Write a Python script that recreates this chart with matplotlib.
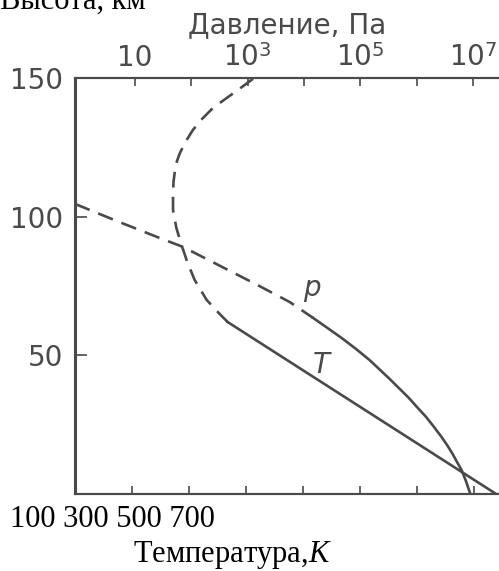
import matplotlib
matplotlib.use("Agg")
import matplotlib.pyplot as plt

plt.rcParams['mathtext.fontset'] = 'custom'
plt.rcParams['mathtext.rm'] = 'DejaVu Sans'
plt.rcParams['mathtext.it'] = 'Liberation Serif:italic'

# Temperature profile (K vs km): dashed above ~62 km, solid below
temp_dash_K = [311.4, 298.2, 285.1, 264, 241.2, 222.8, 206.1, 193.9, 183.3, 178.1, 174.6,
               171.9, 171.1, 171.1, 177, 186, 196, 209, 230, 253, 267]
temp_dash_km = [149.7, 147.7, 145.7, 142.6, 139.2, 135.4, 131.3, 127.3, 123.0, 120.1, 116.8,
                112.5, 107.8, 102.4, 95.9, 89.8, 83.7, 77.2, 70, 64.9, 62]
temp_solid_K = [267, 738]
temp_solid_km = [62, 0]

# Pressure profile (Pa vs km)
p_dash_Pa = [0.86, 4.8, 27.5, 71, 1480, 5600, 14500]
p_dash_km = [104.6, 98.4, 92.3, 89.1, 75.4, 69.2, 63.5]
p_solid_Pa = [14500, 2.6e4, 4.7e4, 8.4e4, 1.46e5, 3.2e5, 7.0e5, 1.01e6, 1.47e6, 2.03e6,
              2.76e6, 3.46e6, 4.25e6, 5.1e6, 6.25e6, 7.5e6, 8.85e6]
p_solid_km = [63.5, 59.9, 56.2, 52.3, 48.3, 41.8, 35.0, 31.4, 27.8, 24.2,
              20.6, 17.7, 14.8, 11.9, 8.7, 4.7, 0.4]

alt_ticks = [50, 100, 150]
temp_ticks = [100, 200, 300, 400, 500, 600, 700]
p_ticks = [1e1, 1e2, 1e3, 1e4, 1e5, 1e6, 1e7]
p_ticklabels = ['10', '', '$10^3$', '', '$10^5$', '', '$10^7$']

grey = '#4a4a4a'
lw = 1.9
dash = (0, (6, 3.5))

fig = plt.figure(figsize=(4.99, 5.71), dpi=100)
ax = fig.add_axes([75.5 / 499, 1 - 494 / 571, 1 - 75.5 / 499, (494 - 78) / 571])

ax.plot(temp_dash_K, temp_dash_km, color=grey, lw=lw, linestyle=dash)
ax.plot(temp_solid_K, temp_solid_km, color=grey, lw=lw)
ax.set_xlim(0, 743)
ax.set_ylim(0, 150)
ax.set_xticks(temp_ticks)
ax.set_xticklabels([])
ax.set_yticks(alt_ticks)
ax.tick_params(axis='x', direction='in', length=6, width=1.2, color=grey)
ax.tick_params(axis='y', direction='in', length=8, width=1.2, color=grey,
               labelsize=20, labelcolor=grey, pad=9)

ax2 = ax.twiny()
ax2.plot(p_dash_Pa, p_dash_km, color=grey, lw=lw, linestyle=dash)
ax2.plot(p_solid_Pa, p_solid_km, color=grey, lw=lw)
ax2.set_xscale('log')
ax2.set_xlim(0.879, 2.9e7)
ax2.set_ylim(0, 150)
ax2.set_xticks(p_ticks)
ax2.set_xticklabels(p_ticklabels)
ax2.minorticks_off()
ax2.tick_params(axis='x', direction='in', length=6, width=1.2, color=grey,
                labelsize=20, labelcolor=grey, pad=4)

for a in (ax, ax2):
    a.spines['right'].set_visible(False)
    for s in ('left', 'top', 'bottom'):
        a.spines[s].set_color(grey)
        a.spines[s].set_linewidth(1.5)

ax.text(415, 74.3, 'p', fontsize=20, style='italic', color=grey, ha='center', va='center')
ax.text(432, 46.5, 'T', fontsize=20, style='italic', color=grey, ha='center', va='center')

fig.text(287 / 499, 1 - 33 / 571, 'Давление, Па', fontsize=20, color=grey,
         ha='center', va='baseline')
fig.text(0, 1 - 9 / 571, 'Высота, км', fontsize=22, family='Liberation Serif',
         ha='left', va='baseline')
fig.text(10 / 499, 1 - 527 / 571, '100 300 500 700', fontsize=22,
         family='Liberation Serif', ha='left', va='baseline')
fig.text(133 / 499, 1 - 562 / 571, 'Температура,$\\mathit{K}$', fontsize=22,
         family='Liberation Serif', ha='left', va='baseline')

fig.savefig('out.png', dpi=100)
